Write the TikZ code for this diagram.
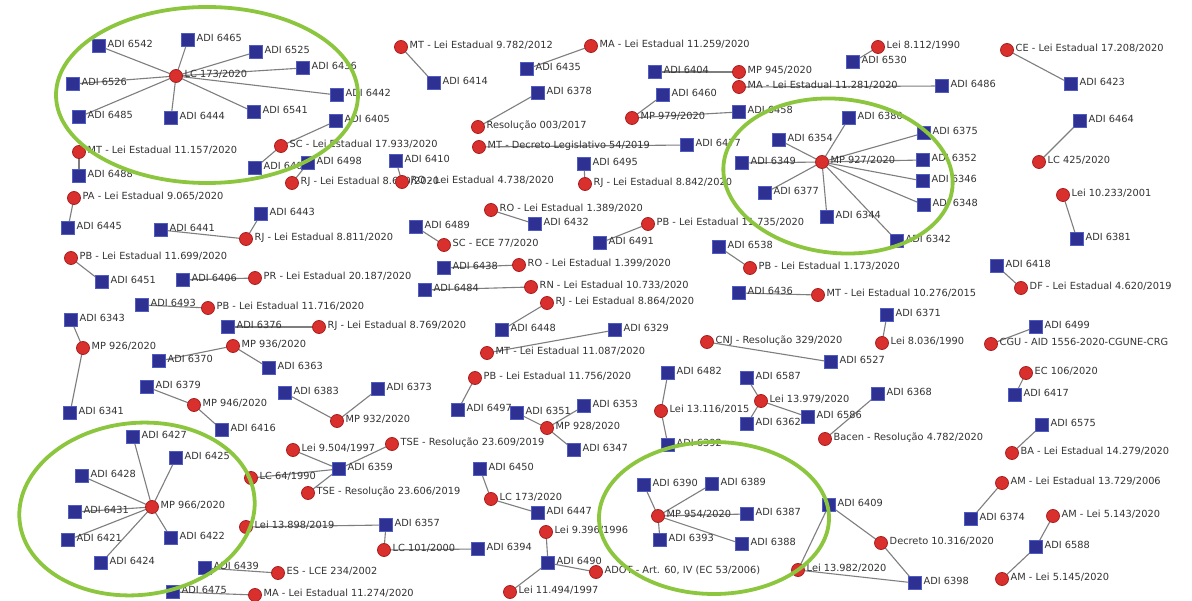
\documentclass[tikz,border=0pt]{standalone}
\usepackage{fontspec}
\setmainfont{DejaVu Sans}
\pgfdeclarelayer{background}
\pgfsetlayers{background,main}
\definecolor{lawred}{HTML}{D9302E}
\definecolor{lawedge}{HTML}{A82020}
\definecolor{adiblue}{HTML}{2E3192}
\definecolor{adiedge}{HTML}{4F5CC4}
\definecolor{ringgreen}{HTML}{8CC63F}
\definecolor{linkgray}{HTML}{7E7E7E}
\definecolor{txtgray}{HTML}{333333}
\tikzset{
  law/.style={circle,fill=lawred,draw=lawedge,line width=0.8pt,minimum size=13pt,inner sep=0pt},
  adi/.style={rectangle,fill=adiblue,draw=adiedge,line width=0.8pt,minimum size=12.5pt,inner sep=0pt},
  lbl/.style={anchor=base west,inner sep=0pt,text=txtgray,font=\fontsize{9.8}{11}\selectfont},
  link/.style={draw=linkgray,line width=1.1pt},
  ring/.style={draw=ringgreen,line width=3.8pt}
}
\newcommand\lawnode[4]{\node[law] (#1) at (#2,#3) {};\node[lbl] (#1t) at ([xshift=8.5pt,yshift=-1.5pt]#1.center) {#4};}
\newcommand\adinode[4]{\node[adi] (#1) at (#2,#3) {};\node[lbl] (#1t) at ([xshift=8.5pt,yshift=-1.5pt]#1.center) {#4};}
\newcommand\lk[2]{\begin{pgfonlayer}{background}\draw[link] (#1.center) -- (#2.center);\end{pgfonlayer}}
\begin{document}
\begin{tikzpicture}[x=1pt,y=-1pt]
\begin{pgfonlayer}{background}
\fill[white] (0,0) rectangle (1192,601);
\end{pgfonlayer}
\useasboundingbox (0,0) rectangle (1192,601);
% ---- laws (red circles)
\lawnode{l1}{176}{76}{LC 173/2020}
\lawnode{l2}{79}{152}{MT - Lei Estadual 11.157/2020}
\lawnode{l3}{281}{146}{SC - Lei Estadual 17.933/2020}
\lawnode{l4}{74}{198}{PA - Lei Estadual 9.065/2020}
\lawnode{l5}{401}{47}{MT - Lei Estadual 9.782/2012}
\lawnode{l6}{591}{46}{MA - Lei Estadual 11.259/2020}
\lawnode{l7}{478}{127}{Resolução 003/2017}
\lawnode{l8}{479}{147}{MT - Decreto Legislativo 54/2019}
\lawnode{l9}{292}{183}{RJ - Lei Estadual 8.620/2020}
\lawnode{l10}{402}{182}{RO - Lei Estadual 4.738/2020}
\lawnode{l11}{585}{184}{RJ - Lei Estadual 8.842/2020}
\lawnode{l12}{739}{72}{MP 945/2020}
\lawnode{l13}{739}{87}{MA - Lei Estadual 11.281/2020}
\lawnode{l14}{632}{118}{MP 979/2020}
\lawnode{l15}{878}{47}{Lei 8.112/1990}
\lawnode{l16}{822}{162}{MP 927/2020}
\lawnode{l17}{1007}{50}{CE - Lei Estadual 17.208/2020}
\lawnode{l18}{1039}{162}{LC 425/2020}
\lawnode{l19}{1063}{195}{Lei 10.233/2001}
\lawnode{l20}{246}{239}{RJ - Lei Estadual 8.811/2020}
\lawnode{l21}{71}{258}{PB - Lei Estadual 11.699/2020}
\lawnode{l22}{255}{278}{PR - Lei Estadual 20.187/2020}
\lawnode{l23}{208}{308}{PB - Lei Estadual 11.716/2020}
\lawnode{l24}{83}{348}{MP 926/2020}
\lawnode{l25}{319}{327}{RJ - Lei Estadual 8.769/2020}
\lawnode{l26}{233}{346}{MP 936/2020}
\lawnode{l27}{194}{405}{MP 946/2020}
\lawnode{l28}{337}{421}{MP 932/2020}
\lawnode{l29}{491}{210}{RO - Lei Estadual 1.389/2020}
\lawnode{l30}{444}{245}{SC - ECE 77/2020}
\lawnode{l31}{519}{265}{RO - Lei Estadual 1.399/2020}
\lawnode{l32}{531}{287}{RN - Lei Estadual 10.733/2020}
\lawnode{l33}{547}{303}{RJ - Lei Estadual 8.864/2020}
\lawnode{l34}{487}{353}{MT - Lei Estadual 11.087/2020}
\lawnode{l35}{475}{378}{PB - Lei Estadual 11.756/2020}
\lawnode{l36}{648}{224}{PB - Lei Estadual 11.735/2020}
\lawnode{l37}{750}{268}{PB - Lei Estadual 1.173/2020}
\lawnode{l38}{818}{295}{MT - Lei Estadual 10.276/2015}
\lawnode{l39}{882}{343}{Lei 8.036/1990}
\lawnode{l40}{707}{342}{CNJ - Resolução 329/2020}
\lawnode{l41}{661}{411}{Lei 13.116/2015}
\lawnode{l42}{761}{401}{Lei 13.979/2020}
\lawnode{l43}{825}{439}{Bacen - Resolução 4.782/2020}
\lawnode{l44}{1021}{288}{DF - Lei Estadual 4.620/2019}
\lawnode{l45}{991}{344}{CGU - AID 1556-2020-CGUNE-CRG}
\lawnode{l46}{1026}{373}{EC 106/2020}
\lawnode{l47}{1012}{453}{BA - Lei Estadual 14.279/2020}
\lawnode{l48}{1002}{483}{AM - Lei Estadual 13.729/2006}
\lawnode{l49}{1053}{516}{AM - Lei 5.143/2020}
\lawnode{l50}{1002}{579}{AM - Lei 5.145/2020}
\lawnode{l51}{881}{543}{Decreto 10.316/2020}
\lawnode{l52}{798}{570}{Lei 13.982/2020}
\lawnode{l53}{152}{507}{MP 966/2020}
\lawnode{l54}{278}{573}{ES - LCE 234/2002}
\lawnode{l55}{255}{595}{MA - Lei Estadual 11.274/2020}
\lawnode{l56}{251}{478}{LC 64/1990}
\lawnode{l57}{246}{527}{Lei 13.898/2019}
\lawnode{l58}{293}{450}{Lei 9.504/1997}
\lawnode{l59}{392}{444}{TSE - Resolução 23.609/2019}
\lawnode{l60}{308}{493}{TSE - Resolução 23.606/2019}
\lawnode{l61}{384}{550}{LC 101/2000}
\lawnode{l62}{547}{428}{MP 928/2020}
\lawnode{l63}{491}{499}{LC 173/2020}
\lawnode{l64}{546}{532}{Lei 9.396/1996}
\lawnode{l65}{596}{572}{ADOT - Art. 60, IV (EC 53/2006)}
\lawnode{l66}{510}{592}{Lei 11.494/1997}
\lawnode{l67}{658}{516}{MP 954/2020}
% ---- ADIs (blue squares)
\adinode{a6542}{99}{46}{ADI 6542}
\adinode{a6465}{188}{40}{ADI 6465}
\adinode{a6525}{256}{52}{ADI 6525}
\adinode{a6436}{303}{68}{ADI 6436}
\adinode{a6526}{73}{84}{ADI 6526}
\adinode{a6485}{79}{117}{ADI 6485}
\adinode{a6444}{171}{118}{ADI 6444}
\adinode{a6541}{254}{112}{ADI 6541}
\adinode{a6442}{337}{95}{ADI 6442}
\adinode{a6405}{336}{121}{ADI 6405}
\adinode{a6488}{79}{176}{ADI 6488}
\adinode{a6408}{255}{168}{ADI 6408}
\adinode{a6498}{308}{163}{ADI 6498}
\adinode{a6445}{68}{228}{ADI 6445}
\adinode{a6414}{434}{83}{ADI 6414}
\adinode{a6435}{527}{69}{ADI 6435}
\adinode{a6378}{538}{93}{ADI 6378}
\adinode{a6477}{687}{145}{ADI 6477}
\adinode{a6410}{396}{161}{ADI 6410}
\adinode{a6495}{584}{164}{ADI 6495}
\adinode{a6404}{655}{72}{ADI 6404}
\adinode{a6486}{942}{86}{ADI 6486}
\adinode{a6460}{663}{95}{ADI 6460}
\adinode{a6458}{739}{112}{ADI 6458}
\adinode{a6530}{853}{62}{ADI 6530}
\adinode{a6380}{849}{118}{ADI 6380}
\adinode{a6354}{779}{140}{ADI 6354}
\adinode{a6349}{742}{163}{ADI 6349}
\adinode{a6377}{765}{193}{ADI 6377}
\adinode{a6375}{924}{133}{ADI 6375}
\adinode{a6352}{923}{160}{ADI 6352}
\adinode{a6346}{923}{181}{ADI 6346}
\adinode{a6348}{924}{205}{ADI 6348}
\adinode{a6342}{897}{241}{ADI 6342}
\adinode{a6344}{827}{217}{ADI 6344}
\adinode{a6423}{1071}{84}{ADI 6423}
\adinode{a6464}{1080}{121}{ADI 6464}
\adinode{a6381}{1077}{239}{ADI 6381}
\adinode{a6441}{161}{230}{ADI 6441}
\adinode{a6443}{261}{214}{ADI 6443}
\adinode{a6451}{102}{282}{ADI 6451}
\adinode{a6406}{183}{280}{ADI 6406}
\adinode{a6493}{142}{305}{ADI 6493}
\adinode{a6343}{71}{320}{ADI 6343}
\adinode{a6341}{70}{413}{ADI 6341}
\adinode{a6376}{228}{327}{ADI 6376}
\adinode{a6370}{159}{361}{ADI 6370}
\adinode{a6363}{269}{368}{ADI 6363}
\adinode{a6379}{147}{387}{ADI 6379}
\adinode{a6416}{222}{430}{ADI 6416}
\adinode{a6383}{285}{393}{ADI 6383}
\adinode{a6373}{378}{389}{ADI 6373}
\adinode{a6432}{535}{224}{ADI 6432}
\adinode{a6489}{416}{227}{ADI 6489}
\adinode{a6438}{444}{268}{ADI 6438}
\adinode{a6484}{425}{290}{ADI 6484}
\adinode{a6448}{502}{330}{ADI 6448}
\adinode{a6329}{615}{330}{ADI 6329}
\adinode{a6497}{458}{410}{ADI 6497}
\adinode{a6491}{600}{243}{ADI 6491}
\adinode{a6538}{719}{247}{ADI 6538}
\adinode{a6436b}{739}{293}{ADI 6436}
\adinode{a6371}{887}{315}{ADI 6371}
\adinode{a6527}{831}{362}{ADI 6527}
\adinode{a6482}{668}{373}{ADI 6482}
\adinode{a6392}{668}{445}{ADI 6392}
\adinode{a6587}{747}{378}{ADI 6587}
\adinode{a6362}{747}{424}{ADI 6362}
\adinode{a6586}{808}{417}{ADI 6586}
\adinode{a6368}{878}{394}{ADI 6368}
\adinode{a6418}{997}{266}{ADI 6418}
\adinode{a6499}{1036}{327}{ADI 6499}
\adinode{a6417}{1015}{395}{ADI 6417}
\adinode{a6575}{1042}{425}{ADI 6575}
\adinode{a6374}{971}{519}{ADI 6374}
\adinode{a6588}{1036}{547}{ADI 6588}
\adinode{a6409}{829}{505}{ADI 6409}
\adinode{a6398}{915}{583}{ADI 6398}
\adinode{a6427}{133}{437}{ADI 6427}
\adinode{a6425}{176}{458}{ADI 6425}
\adinode{a6428}{82}{476}{ADI 6428}
\adinode{a6431}{75}{512}{ADI 6431}
\adinode{a6421}{68}{540}{ADI 6421}
\adinode{a6424}{101}{563}{ADI 6424}
\adinode{a6422}{171}{538}{ADI 6422}
\adinode{a6439}{205}{568}{ADI 6439}
\adinode{a6475}{173}{592}{ADI 6475}
\adinode{a6359}{339}{469}{ADI 6359}
\adinode{a6357}{386}{525}{ADI 6357}
\adinode{a6394}{478}{549}{ADI 6394}
\adinode{a6351}{517}{413}{ADI 6351}
\adinode{a6353}{584}{406}{ADI 6353}
\adinode{a6347}{574}{450}{ADI 6347}
\adinode{a6450}{480}{469}{ADI 6450}
\adinode{a6447}{538}{513}{ADI 6447}
\adinode{a6490}{548}{563}{ADI 6490}
\adinode{a6390}{644}{485}{ADI 6390}
\adinode{a6389}{712}{484}{ADI 6389}
\adinode{a6387}{747}{514}{ADI 6387}
\adinode{a6393}{660}{540}{ADI 6393}
\adinode{a6388}{742}{544}{ADI 6388}
% ---- connectors
\foreach \a in {a6542,a6465,a6525,a6436,a6526,a6485,a6444,a6541,a6442} {\lk{l1}{\a}}
\lk{l2}{a6488}
\lk{l3}{a6405}\lk{l3}{a6408}
\lk{l4}{a6445}
\lk{l5}{a6414}
\lk{l6}{a6435}
\lk{l7}{a6378}
\lk{l8}{a6477}
\lk{l9}{a6498}
\lk{l10}{a6410}
\lk{l11}{a6495}
\lk{l12}{a6404}
\lk{l13}{a6486}
\lk{l14}{a6460}\lk{l14}{a6458}
\lk{l15}{a6530}
\foreach \a in {a6380,a6354,a6349,a6377,a6375,a6352,a6346,a6348,a6342,a6344} {\lk{l16}{\a}}
\lk{l17}{a6423}
\lk{l18}{a6464}
\lk{l19}{a6381}
\lk{l20}{a6441}\lk{l20}{a6443}
\lk{l21}{a6451}
\lk{l22}{a6406}
\lk{l23}{a6493}
\lk{l24}{a6343}\lk{l24}{a6341}
\lk{l25}{a6376}
\lk{l26}{a6370}\lk{l26}{a6363}
\lk{l27}{a6379}\lk{l27}{a6416}
\lk{l28}{a6383}\lk{l28}{a6373}
\lk{l29}{a6432}
\lk{l30}{a6489}
\lk{l31}{a6438}
\lk{l32}{a6484}
\lk{l33}{a6448}
\lk{l34}{a6329}
\lk{l35}{a6497}
\lk{l36}{a6491}
\lk{l37}{a6538}
\lk{l38}{a6436b}
\lk{l39}{a6371}
\lk{l40}{a6527}
\lk{l41}{a6482}\lk{l41}{a6392}
\lk{l42}{a6587}\lk{l42}{a6362}\lk{l42}{a6586}
\lk{l43}{a6368}
\lk{l44}{a6418}
\lk{l45}{a6499}
\lk{l46}{a6417}
\lk{l47}{a6575}
\lk{l48}{a6374}
\lk{l49}{a6588}
\lk{l50}{a6588}
\lk{l51}{a6409}\lk{l51}{a6398}
\lk{l52}{a6409}\lk{l52}{a6398}
\foreach \a in {a6427,a6425,a6428,a6431,a6421,a6424,a6422} {\lk{l53}{\a}}
\lk{l54}{a6439}
\lk{l55}{a6475}
\lk{l56}{a6359}
\lk{l57}{a6357}
\lk{l58}{a6359}
\lk{l59}{a6359}
\lk{l60}{a6359}
\lk{l61}{a6357}\lk{l61}{a6394}
\lk{l62}{a6351}\lk{l62}{a6353}\lk{l62}{a6347}
\lk{l63}{a6450}\lk{l63}{a6447}
\lk{l64}{a6490}
\lk{l65}{a6490}
\lk{l66}{a6490}
\foreach \a in {a6390,a6389,a6387,a6393,a6388} {\lk{l67}{\a}}
% ---- green highlight rings
\draw[ring] (207,95) ellipse [x radius=151pt, y radius=88pt];
\draw[ring,rotate around={-6:(838,176)}] (838,176) ellipse [x radius=115pt, y radius=77pt];
\draw[ring,rotate around={6:(137,509)}] (137,509) ellipse [x radius=118pt, y radius=86pt];
\draw[ring] (714,518) ellipse [x radius=115pt, y radius=76pt];
\end{tikzpicture}
\end{document}
